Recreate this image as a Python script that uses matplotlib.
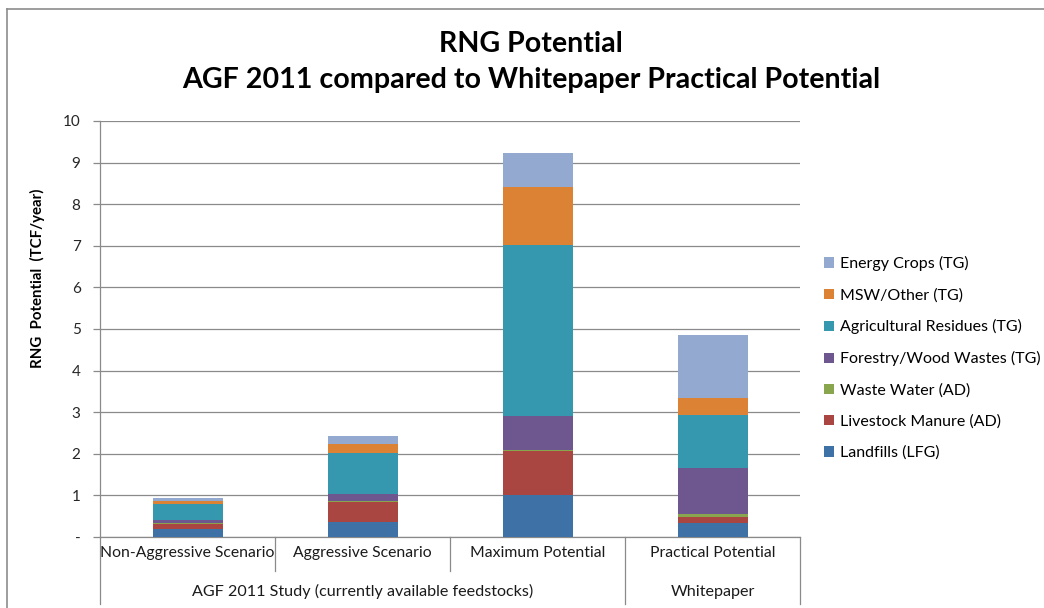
import numpy as np
import matplotlib
matplotlib.use("Agg")
import matplotlib.pyplot as plt
from matplotlib.lines import Line2D
from matplotlib.patches import Patch

plt.rcParams["font.family"] = ["Lato", "DejaVu Sans"]

categories = ["Non-Aggressive Scenario", "Aggressive Scenario", "Maximum Potential", "Practical Potential"]
groups = ["AGF 2011 Study (currently available feedstocks)", "Whitepaper"]

series = [
    "Landfills (LFG)",
    "Livestock Manure (AD)",
    "Waste Water (AD)",
    "Forestry/Wood Wastes (TG)",
    "Agricultural Residues (TG)",
    "MSW/Other (TG)",
    "Energy Crops (TG)",
]
landfills = [0.185, 0.36, 1.00, 0.34]
livestock = [0.135, 0.49, 1.07, 0.14]
waste_water = [0.01, 0.01, 0.01, 0.07]
forestry = [0.08, 0.18, 0.84, 1.10]
agri = [0.39, 0.98, 4.09, 1.28]
msw = [0.07, 0.21, 1.41, 0.41]
energy = [0.07, 0.19, 0.82, 1.51]

colors = ["#3e71a5", "#aa4641", "#89a54e", "#6e568e", "#3598af", "#db8234", "#93a9cf"]
yticks = [0, 1, 2, 3, 4, 5, 6, 7, 8, 9, 10]
ytick_labels = ["-", "1", "2", "3", "4", "5", "6", "7", "8", "9", "10"]

W, H = 1044, 608
fig = plt.figure(figsize=(W / 100, H / 100), dpi=100)
ax = fig.add_axes([100 / W, 1 - 537 / H, 700 / W, 416 / H])

x = np.arange(len(categories))
bottom = np.zeros(len(categories))
for name, vals, c in zip(series, [landfills, livestock, waste_water, forestry, agri, msw, energy], colors):
    ax.bar(x, vals, width=0.4, bottom=bottom, color=c, label=name, zorder=3)
    bottom += np.array(vals)

ax.set_xlim(-0.5, 3.5)
ax.set_ylim(0, 10)
ax.set_yticks(yticks)
ax.set_yticklabels(ytick_labels)
ax.set_xticks([])
grid_c = "#8a8a8a"
ax.yaxis.grid(True, color=grid_c, lw=0.9, zorder=0)
for s in ["top", "right"]:
    ax.spines[s].set_visible(False)
for s in ["left", "bottom"]:
    ax.spines[s].set_color(grid_c)
    ax.spines[s].set_linewidth(0.9)
ax.tick_params(axis="y", length=5, width=0.9, color=grid_c, pad=9, labelsize=11, labelcolor="#262626")

# category axis with two label rows
tr = ax.get_xaxis_transform()
for xs, depth in [(-0.5, -0.16), (0.5, -0.082), (1.5, -0.082), (2.5, -0.16), (3.5, -0.16)]:
    ax.add_line(Line2D([xs, xs], [0, depth], transform=tr, color=grid_c, lw=0.9, clip_on=False))
for i, cat in enumerate(categories):
    ax.text(i, -0.039, cat, transform=tr, ha="center", va="center", fontsize=11.3, color="#1a1a1a")
ax.text(1.0, -0.132, groups[0], transform=tr, ha="center", va="center", fontsize=11.6, color="#1a1a1a")
ax.text(3.0, -0.132, groups[1], transform=tr, ha="center", va="center", fontsize=11.6, color="#1a1a1a")

fig.text(531 / W, 1 - 44 / H, "RNG Potential", ha="center", va="center", fontsize=20.6, fontweight="bold")
fig.text(531 / W, 1 - 80 / H, "AGF 2011 compared to Whitepaper Practical Potential",
         ha="center", va="center", fontsize=20.6, fontweight="bold")
fig.text(37 / W, 1 - 278 / H, "RNG  Potential  (TCF/year)", rotation=90, ha="center", va="center",
         fontsize=10.8, fontweight="bold")

handles = [Patch(facecolor=c, label=n) for n, c in zip(series, colors)][::-1]
fig.legend(handles=handles, loc="upper left", bbox_to_anchor=(824 / W, 1 - 256 / H), frameon=False,
           fontsize=11.5, handlelength=0.6, handleheight=0.6, handletextpad=0.4, labelspacing=1.06,
           borderaxespad=0, borderpad=0)

# outer chart border
fig.add_artist(Line2D([7 / W, 1], [1 - 9 / H, 1 - 9 / H], transform=fig.transFigure, color="#8c8c8c", lw=1.2))
fig.add_artist(Line2D([7 / W, 7 / W], [0, 1 - 9 / H], transform=fig.transFigure, color="#8c8c8c", lw=1.2))

fig.savefig("out.png", dpi=100)
